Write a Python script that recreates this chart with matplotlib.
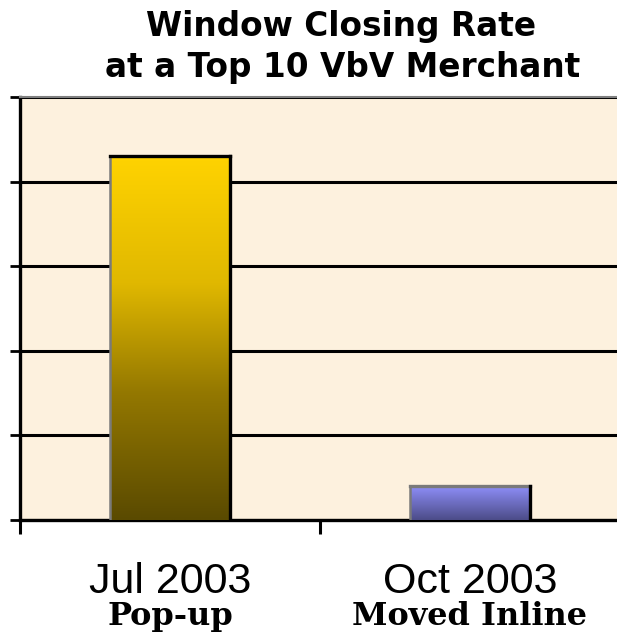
#!/usr/bin/env python3
"""Window closing rate before and after moving the VbV prompt inline."""

import matplotlib

matplotlib.use("Agg")
import matplotlib.pyplot as plt
import numpy as np
from matplotlib.colors import LinearSegmentedColormap

periods = ["Jul 2003", "Oct 2003"]
modes = ["Pop-up", "Moved Inline"]
closing_rate = [43, 4]
y_ticks = [0, 10, 20, 30, 40, 50]

# bottom -> top colour stops of each bar's gradient
bar_gradients = [
    [(0.0, "#5A4A00"), (0.35, "#947800"), (0.65, "#E0B800"), (1.0, "#FFD300")],
    [(0.0, "#4C4C88"), (1.0, "#8E8EF8")],
]
bar_top_edge = ["black", "#7a7a7a"]

W, H = 617, 644
fig = plt.figure(figsize=(W / 100, H / 100), dpi=100)
ax = fig.add_axes([20 / W, 124 / H, 600 / W, 423 / H])
ax.set_facecolor("#FDF1DE")

ax.set_xlim(-0.5, 1.5)
ax.set_ylim(y_ticks[0], y_ticks[-1])

bars = ax.bar(range(len(periods)), closing_rate, width=0.4, color="none", zorder=3)
for rect, stops, top_col in zip(bars, bar_gradients, bar_top_edge):
    x0, w, h = rect.get_x(), rect.get_width(), rect.get_height()
    cmap = LinearSegmentedColormap.from_list("bar", stops)
    grad = np.linspace(0, 1, 256).reshape(-1, 1)
    img = ax.imshow(grad, cmap=cmap, origin="lower", aspect="auto",
                    extent=(x0, x0 + w, 0, h), zorder=3, interpolation="bilinear")
    img.set_clip_path(rect)
    ax.plot([x0, x0], [0, h], color="#7a7a7a", lw=1.8, zorder=4, solid_capstyle="butt")
    ax.plot([x0, x0 + w], [h, h], color=top_col, lw=2.4, zorder=4, solid_capstyle="projecting")
    ax.plot([x0 + w, x0 + w], [0, h], color="black", lw=2.4, zorder=4, solid_capstyle="projecting")

# imshow resets the limits, put them back
ax.set_xlim(-0.5, 1.5)
ax.set_ylim(y_ticks[0], y_ticks[-1])

ax.set_yticks(y_ticks)
ax.set_yticklabels([])
ax.yaxis.grid(True, color="black", lw=2.2)
ax.set_axisbelow(True)
ax.tick_params(axis="y", length=7, width=2, color="black")

ax.set_xticks([-0.5, 0.5])
ax.set_xticklabels([])
ax.tick_params(axis="x", length=10, width=2.2, color="black")

ax.spines["right"].set_visible(False)
ax.spines["top"].set_color("#808080")
ax.spines["top"].set_linewidth(1.5)
for side in ("left", "bottom"):
    ax.spines[side].set_color("black")
    ax.spines[side].set_linewidth(2.4)

trans = ax.get_xaxis_transform()
for i, (period, mode) in enumerate(zip(periods, modes)):
    ax.text(i, -0.1726, period, transform=trans, ha="center", va="baseline",
            fontsize=31, family="Liberation Sans", color="black")
    ax.text(i, -0.248, mode, transform=trans, ha="center", va="baseline",
            fontsize=23, fontweight="bold", family="DejaVu Serif", color="black")

fig.text(341 / W, 1 - 36 / H, "Window Closing Rate", ha="center", va="baseline",
         fontsize=23.6, fontweight="bold", family="DejaVu Sans")
fig.text(343 / W, 1 - 77 / H, "at a Top 10 VbV Merchant", ha="center", va="baseline",
         fontsize=23.6, fontweight="bold", family="DejaVu Sans")

fig.savefig("out.png", dpi=100, facecolor="white")
plt.close(fig)
